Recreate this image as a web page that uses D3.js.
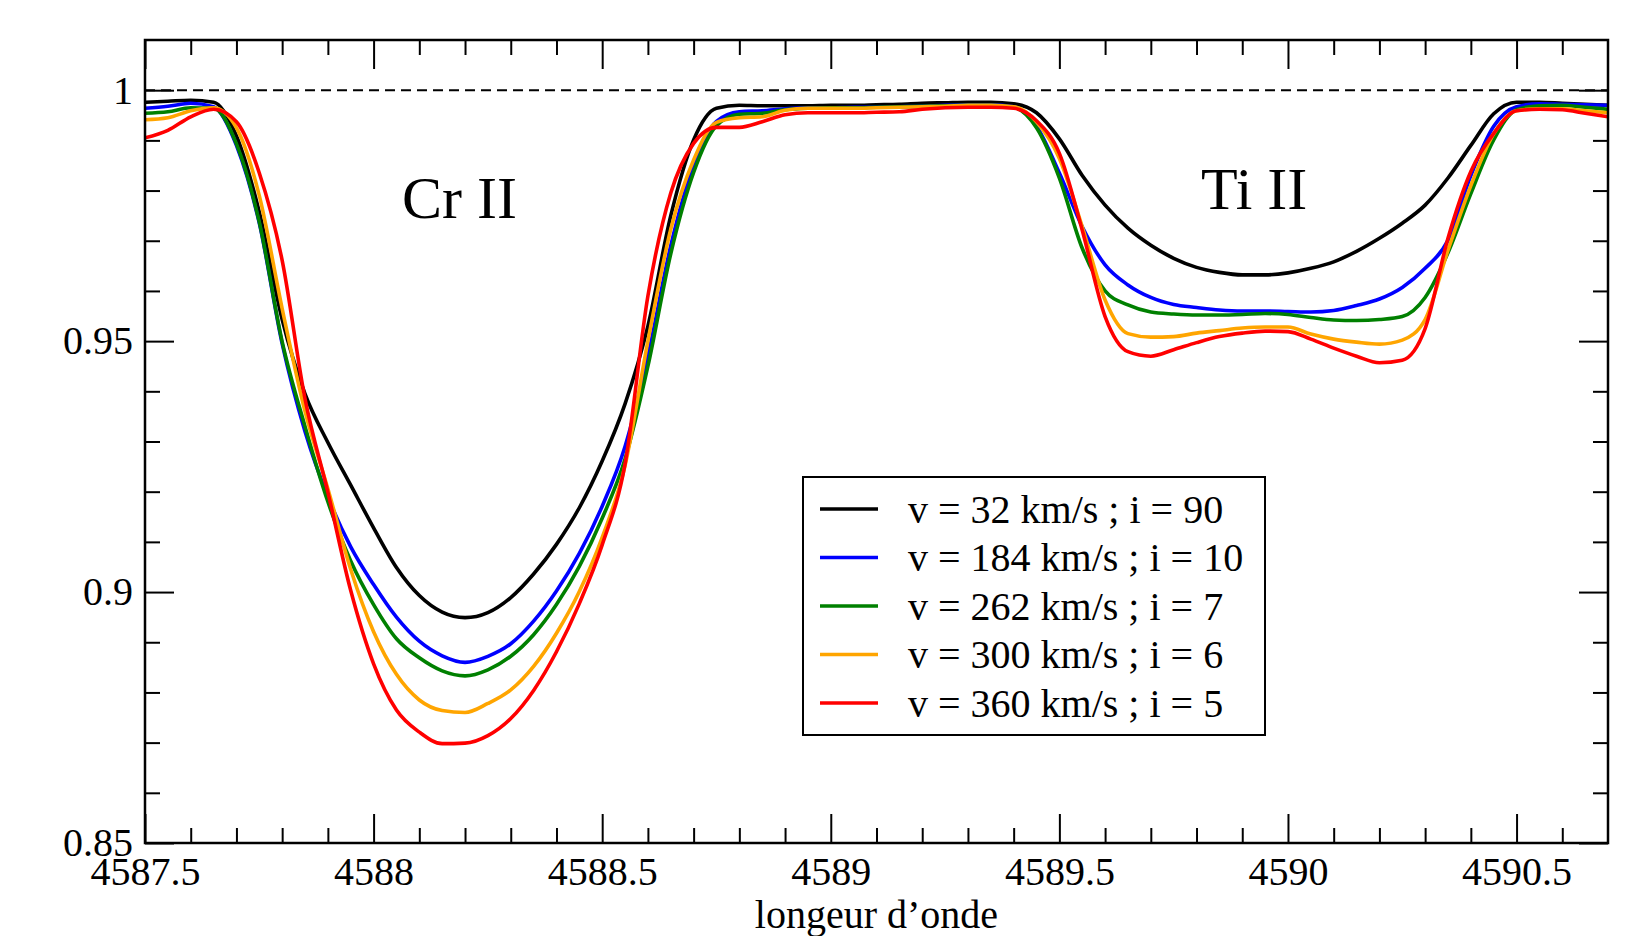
<!DOCTYPE html>
<html lang="fr">
<head>
<meta charset="utf-8">
<title>profils Cr II / Ti II</title>
<script src="https://cdn.jsdelivr.net/npm/d3@7"></script>
<style>
  body { margin: 0; background: #fff; }
  svg { display: block; }
</style>
</head>
<body>
<div id="chart"></div>
<script>
// longueurs d'onde (Angstrom)
const wl = [4587.50, 4587.55, 4587.60, 4587.65, 4587.70, 4587.75, 4587.80, 4587.85, 4587.90, 4587.95,
  4588.00, 4588.05, 4588.10, 4588.15, 4588.20, 4588.25, 4588.30, 4588.35, 4588.40, 4588.45,
  4588.50, 4588.55, 4588.60, 4588.65, 4588.70, 4588.75, 4588.80, 4588.85, 4588.90, 4588.95,
  4589.00, 4589.05, 4589.10, 4589.15, 4589.20, 4589.25, 4589.30, 4589.35, 4589.40, 4589.45,
  4589.50, 4589.55, 4589.60, 4589.65, 4589.70, 4589.75, 4589.80, 4589.85, 4589.90, 4589.95,
  4590.00, 4590.05, 4590.10, 4590.15, 4590.20, 4590.25, 4590.30, 4590.35, 4590.40, 4590.45,
  4590.50, 4590.55, 4590.60, 4590.65, 4590.70];

// flux normalise, une liste par modele
const fluxV32 = [0.9976, 0.9978, 0.9980, 0.9976, 0.9909, 0.9757, 0.9543, 0.9395, 0.9298, 0.9213,
  0.9128, 0.9049, 0.8993, 0.8960, 0.8949, 0.8959, 0.8989, 0.9036, 0.9095, 0.9168,
  0.9261, 0.9375, 0.9530, 0.9750, 0.9901, 0.9964, 0.9970, 0.9969, 0.9969, 0.9969,
  0.9970, 0.9970, 0.9971, 0.9972, 0.9974, 0.9975, 0.9976, 0.9976, 0.9973, 0.9955,
  0.9903, 0.9830, 0.9771, 0.9725, 0.9691, 0.9665, 0.9647, 0.9637, 0.9632, 0.9632,
  0.9636, 0.9645, 0.9658, 0.9679, 0.9705, 0.9735, 0.9771, 0.9825, 0.9890, 0.9953,
  0.9976, 0.9976, 0.9974, 0.9972, 0.9970];
const fluxV184 = [0.9964, 0.9968, 0.9974, 0.9967, 0.9890, 0.9735, 0.9495, 0.9320, 0.9190, 0.9090,
  0.9015, 0.8950, 0.8902, 0.8873, 0.8860, 0.8872, 0.8897, 0.8942, 0.9002, 0.9077,
  0.9171, 0.9290, 0.9470, 0.9690, 0.9850, 0.9938, 0.9957, 0.9959, 0.9963, 0.9965,
  0.9965, 0.9966, 0.9966, 0.9967, 0.9968, 0.9970, 0.9971, 0.9971, 0.9967, 0.9928,
  0.9835, 0.9728, 0.9652, 0.9612, 0.9587, 0.9573, 0.9567, 0.9562, 0.9560, 0.9560,
  0.9559, 0.9558, 0.9561, 0.9571, 0.9584, 0.9607, 0.9645, 0.9701, 0.9830, 0.9928,
  0.9967, 0.9973, 0.9972, 0.9971, 0.9970];
const fluxV262 = [0.9954, 0.9957, 0.9965, 0.9964, 0.9893, 0.9737, 0.9499, 0.9330, 0.9180, 0.9062,
  0.8975, 0.8907, 0.8869, 0.8843, 0.8833, 0.8845, 0.8872, 0.8915, 0.8975, 0.9051,
  0.9147, 0.9265, 0.9450, 0.9674, 0.9836, 0.9929, 0.9952, 0.9954, 0.9961, 0.9964,
  0.9965, 0.9965, 0.9966, 0.9967, 0.9968, 0.9969, 0.9970, 0.9970, 0.9966, 0.9925,
  0.9825, 0.9685, 0.9600, 0.9572, 0.9558, 0.9554, 0.9552, 0.9552, 0.9553, 0.9555,
  0.9553, 0.9547, 0.9542, 0.9541, 0.9543, 0.9549, 0.9587, 0.9676, 0.9794, 0.9901,
  0.9961, 0.9969, 0.9970, 0.9966, 0.9962];
const fluxV300 = [0.9941, 0.9945, 0.9959, 0.9965, 0.9925, 0.9790, 0.9565, 0.9360, 0.9206, 0.9045,
  0.8921, 0.8836, 0.8785, 0.8764, 0.8760, 0.8778, 0.8805, 0.8852, 0.8918, 0.9001,
  0.9109, 0.9252, 0.9500, 0.9723, 0.9861, 0.9936, 0.9945, 0.9947, 0.9960, 0.9964,
  0.9964, 0.9964, 0.9965, 0.9966, 0.9967, 0.9968, 0.9970, 0.9970, 0.9967, 0.9937,
  0.9864, 0.9728, 0.9582, 0.9515, 0.9508, 0.9509, 0.9516, 0.9521, 0.9526, 0.9528,
  0.9528, 0.9514, 0.9504, 0.9498, 0.9494, 0.9502, 0.9543, 0.9681, 0.9810, 0.9913,
  0.9959, 0.9963, 0.9963, 0.9959, 0.9955];
const fluxV360 = [0.9905, 0.9920, 0.9947, 0.9962, 0.9937, 0.9835, 0.9661, 0.9385, 0.9199, 0.9003,
  0.8857, 0.8765, 0.8721, 0.8698, 0.8699, 0.8714, 0.8748, 0.8804, 0.8881, 0.8977,
  0.9094, 0.9255, 0.9590, 0.9795, 0.9894, 0.9926, 0.9926, 0.9937, 0.9951, 0.9955,
  0.9955, 0.9955, 0.9956, 0.9957, 0.9962, 0.9965, 0.9966, 0.9966, 0.9964, 0.9939,
  0.9874, 0.9721, 0.9549, 0.9479, 0.9470, 0.9483, 0.9497, 0.9509, 0.9516, 0.9520,
  0.9519, 0.9504, 0.9486, 0.9470, 0.9457, 0.9462, 0.9525, 0.9705, 0.9838, 0.9914,
  0.9959, 0.9962, 0.9961, 0.9954, 0.9947];

const legendLabels = ["v = 32 km/s ; i = 90", "v = 184 km/s ; i = 10", "v = 262 km/s ; i = 7",
  "v = 300 km/s ; i = 6", "v = 360 km/s ; i = 5"];
const colors = ["#000000", "#0000ff", "#008000", "#ffa500", "#ff0000"];

// graduations
const xMajor = [4587.5, 4588, 4588.5, 4589, 4589.5, 4590, 4590.5];
const xLabels = ["4587.5", "4588", "4588.5", "4589", "4589.5", "4590", "4590.5"];
const yMajor = [0.85, 0.9, 0.95, 1];
const yLabels = ["0.85", "0.9", "0.95", "1"];

// raies identifiees
const lineNames = ["Cr II", "Ti II"];
const linePos = [4588.062, 4589.81];

const width = 1652, height = 936;
const margin = {top: 40, right: 44, bottom: 93, left: 145};
const font = "'Liberation Serif', 'Times New Roman', serif";

const x = d3.scaleLinear()
    .domain([4587.5, 4590.7])
    .range([margin.left, width - margin.right]);
const y = d3.scaleLinear()
    .domain([0.85, 1.01])
    .range([height - margin.bottom, margin.top]);

const xMinor = d3.range(1, 32).filter(i => i % 5 !== 0).map(i => 4587.5 + i * 0.1);
const yMinor = d3.range(1, 15).filter(i => i % 5 !== 0).map(i => 0.85 + i * 0.01);

const series = [fluxV32, fluxV184, fluxV262, fluxV300, fluxV360].map((v, k) => ({
  name: legendLabels[k],
  color: colors[k],
  values: wl.map((w, i) => ({w: w, f: v[i]}))
}));

const svg = d3.select("#chart").append("svg")
    .attr("width", width)
    .attr("height", height)
    .attr("font-family", font);

svg.append("rect").attr("width", width).attr("height", height).attr("fill", "#fff");

svg.append("clipPath").attr("id", "clip")
  .append("rect")
    .attr("x", x(4587.5)).attr("y", y(1.01))
    .attr("width", x(4590.7) - x(4587.5))
    .attr("height", y(0.85) - y(1.01));

// ligne du continu
svg.append("line")
    .attr("x1", x(4587.5)).attr("x2", x(4590.7))
    .attr("y1", y(1)).attr("y2", y(1))
    .attr("stroke", "#000")
    .attr("stroke-width", 2)
    .attr("stroke-dasharray", "10,6");

const line = d3.line()
    .x(d => x(d.w))
    .y(d => y(d.f))
    .curve(d3.curveMonotoneX);

svg.append("g")
    .attr("clip-path", "url(#clip)")
  .selectAll("path")
  .data(series)
  .join("path")
    .attr("fill", "none")
    .attr("stroke", d => d.color)
    .attr("stroke-width", 3.6)
    .attr("stroke-linejoin", "round")
    .attr("d", d => line(d.values));

// axes (graduations vers l'interieur sur les 4 cotes)
function styleAxis(g) {
  g.select(".domain").remove();
  g.selectAll(".tick line").attr("stroke", "#000").attr("stroke-width", 2);
  g.selectAll(".tick text").attr("fill", "#000");
  g.attr("font-family", font).attr("font-size", 40);
}
const yBottom = y(0.85), yTop = y(1.01), xLeft = x(4587.5), xRight = x(4590.7);

svg.append("g")
    .attr("transform", `translate(0,${yBottom})`)
    .call(d3.axisBottom(x).tickValues(xMajor).tickSize(-29).tickPadding(14)
      .tickFormat((d, i) => xLabels[i]))
    .call(styleAxis);
svg.append("g")
    .attr("transform", `translate(0,${yBottom})`)
    .call(d3.axisBottom(x).tickValues(xMinor).tickSize(-15).tickFormat(""))
    .call(styleAxis);
svg.append("g")
    .attr("transform", `translate(0,${yTop})`)
    .call(d3.axisTop(x).tickValues(xMajor).tickSize(-29).tickFormat(""))
    .call(styleAxis);
svg.append("g")
    .attr("transform", `translate(0,${yTop})`)
    .call(d3.axisTop(x).tickValues(xMinor).tickSize(-15).tickFormat(""))
    .call(styleAxis);

svg.append("g")
    .attr("transform", `translate(${xLeft},0)`)
    .call(d3.axisLeft(y).tickValues(yMajor).tickSize(-29).tickPadding(12)
      .tickFormat((d, i) => yLabels[i]))
    .call(styleAxis);
svg.append("g")
    .attr("transform", `translate(${xLeft},0)`)
    .call(d3.axisLeft(y).tickValues(yMinor).tickSize(-15).tickFormat(""))
    .call(styleAxis);
svg.append("g")
    .attr("transform", `translate(${xRight},0)`)
    .call(d3.axisRight(y).tickValues(yMajor).tickSize(-29).tickFormat(""))
    .call(styleAxis);
svg.append("g")
    .attr("transform", `translate(${xRight},0)`)
    .call(d3.axisRight(y).tickValues(yMinor).tickSize(-15).tickFormat(""))
    .call(styleAxis);

// cadre
svg.append("rect")
    .attr("x", xLeft).attr("y", yTop)
    .attr("width", xRight - xLeft).attr("height", yBottom - yTop)
    .attr("fill", "none")
    .attr("stroke", "#000")
    .attr("stroke-width", 2.5);

// titre de l'axe x
svg.append("text")
    .attr("x", (xLeft + xRight) / 2)
    .attr("y", 928)
    .attr("text-anchor", "middle")
    .attr("font-size", 40)
    .text("longeur d\u2019onde");

// noms des raies
svg.selectAll("text.ion")
  .data(lineNames)
  .join("text")
    .attr("class", "ion")
    .attr("x", (d, i) => x(linePos[i]))
    .attr("y", (d, i) => i === 0 ? 218 : 209)
    .attr("font-size", 60)
    .text(d => d);

// legende
const legend = svg.append("g").attr("transform", "translate(803,477)");
legend.append("rect")
    .attr("width", 462).attr("height", 258)
    .attr("fill", "#fff")
    .attr("stroke", "#000")
    .attr("stroke-width", 2);
const item = legend.selectAll("g.item")
  .data(series)
  .join("g")
    .attr("class", "item")
    .attr("transform", (d, i) => `translate(0,${32 + i * 48.5})`);
item.append("line")
    .attr("x1", 17).attr("x2", 75)
    .attr("stroke", d => d.color)
    .attr("stroke-width", 3.5);
item.append("text")
    .attr("x", 105)
    .attr("dy", "0.34em")
    .attr("font-size", 40)
    .text(d => d.name);
</script>
</body>
</html>
